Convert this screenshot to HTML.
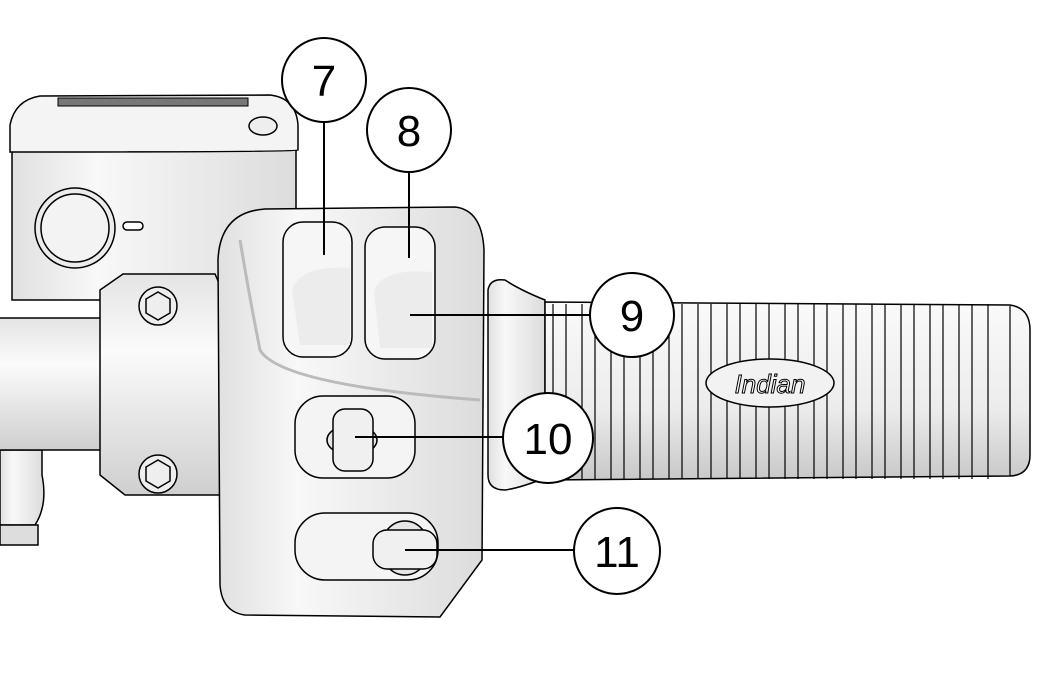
<!DOCTYPE html>
<html><head><meta charset="utf-8"><style>
html,body{margin:0;padding:0;background:#fff;}
svg{display:block}
text{font-family:"Liberation Sans",sans-serif;}
</style></head><body>
<svg width="1050" height="675" viewBox="0 0 1050 675" xmlns="http://www.w3.org/2000/svg">
<defs>
<linearGradient id="gv" x1="0" y1="0" x2="0" y2="1">
<stop offset="0" stop-color="#fafafa"/><stop offset="0.6" stop-color="#ececec"/><stop offset="1" stop-color="#c8c8c8"/></linearGradient>
<linearGradient id="gh" x1="0" y1="0" x2="1" y2="0">
<stop offset="0" stop-color="#e0e0e0"/><stop offset="0.3" stop-color="#f8f8f8"/><stop offset="1" stop-color="#dcdcdc"/></linearGradient>
<linearGradient id="gt" x1="0" y1="0" x2="0" y2="1">
<stop offset="0" stop-color="#e4e4e4"/><stop offset="0.35" stop-color="#fbfbfb"/><stop offset="1" stop-color="#cfcfcf"/></linearGradient>
</defs>
<g stroke="#000" stroke-width="1.5">
<path d="M12 300 L12 150 L296 150 L296 300 Z" fill="url(#gh)"/>
<path d="M10 150 L10 125 Q15 100 40 96 L270 95 Q296 98 298 125 L298 150 Q296 152 10 152 Z" fill="#f4f4f4"/>
<rect x="58" y="98" width="190" height="8" fill="#777" stroke-width="1"/>
<ellipse cx="263" cy="126" rx="14" ry="9" fill="#eee"/>
<circle cx="75" cy="228" r="40" fill="#ececec"/>
<circle cx="75" cy="228" r="34" fill="#f3f3f3"/>
<rect x="123" y="222" width="20" height="8" rx="4" fill="#fff"/>
<path d="M0 450 L42 450 L42 475 Q48 505 35 525 L0 525 Z" fill="url(#gh)"/>
<path d="M0 525 L38 525 L38 545 L0 545 Z" fill="#ddd"/>
<rect x="-2" y="318" width="110" height="132" fill="url(#gt)"/>
<path d="M100 290 L123 274 L215 274 L222 290 L222 495 L125 495 L100 475 Z" fill="url(#gt)"/>
<g fill="#eee"><circle cx="158" cy="306" r="19"/><polygon points="158,292 170,299 170,313 158,320 146,313 146,299"/>
<circle cx="158" cy="474" r="19"/><polygon points="158,460 170,467 170,481 158,488 146,481 146,467"/></g>
<path d="M488 290 Q490 278 505 280 Q520 290 545 300 L545 478 Q520 488 505 490 Q488 490 488 475 Z" fill="url(#gh)"/>
<path d="M545 302 L1010 305 Q1030 308 1030 330 L1030 455 Q1030 475 1010 476 L545 480 Z" fill="url(#gv)"/>
</g>
<g stroke="#000" stroke-width="1.2">
<line x1="553" y1="304" x2="553" y2="479"/><line x1="566" y1="304" x2="566" y2="479"/>
<line x1="582" y1="304" x2="582" y2="479"/><line x1="595" y1="304" x2="595" y2="479"/>
<line x1="611" y1="304" x2="611" y2="479"/><line x1="624" y1="304" x2="624" y2="479"/>
<line x1="640" y1="304" x2="640" y2="479"/><line x1="653" y1="304" x2="653" y2="479"/>
<line x1="669" y1="304" x2="669" y2="479"/><line x1="682" y1="304" x2="682" y2="479"/>
<line x1="698" y1="304" x2="698" y2="479"/><line x1="711" y1="304" x2="711" y2="479"/>
<line x1="727" y1="304" x2="727" y2="479"/><line x1="740" y1="304" x2="740" y2="479"/>
<line x1="756" y1="304" x2="756" y2="479"/><line x1="769" y1="304" x2="769" y2="479"/>
<line x1="785" y1="304" x2="785" y2="479"/><line x1="798" y1="304" x2="798" y2="479"/>
<line x1="814" y1="304" x2="814" y2="479"/><line x1="827" y1="304" x2="827" y2="479"/>
<line x1="843" y1="304" x2="843" y2="479"/><line x1="856" y1="304" x2="856" y2="479"/>
<line x1="872" y1="304" x2="872" y2="479"/><line x1="885" y1="304" x2="885" y2="479"/>
<line x1="901" y1="304" x2="901" y2="479"/><line x1="914" y1="304" x2="914" y2="479"/>
<line x1="930" y1="304" x2="930" y2="479"/><line x1="943" y1="304" x2="943" y2="479"/>
<line x1="959" y1="304" x2="959" y2="479"/><line x1="972" y1="304" x2="972" y2="479"/>
<line x1="988" y1="304" x2="988" y2="479"/><line x1="1010" y1="306" x2="1010" y2="476"/>
</g>
<ellipse cx="770" cy="383" rx="64" ry="24" fill="#f2f2f2" stroke="#000" stroke-width="1.5"/>
<text x="770" y="393" font-size="26" font-style="italic" font-family="Liberation Serif" text-anchor="middle" fill="#fff" stroke="#000" stroke-width="1">Indian</text>
<g stroke="#000" stroke-width="1.5">
<path d="M218 260 Q220 212 265 209 L455 207 Q482 210 484 250 L482 560 L440 617 L245 615 Q222 612 220 585 Z" fill="url(#gh)"/>
<path d="M240 240 Q250 300 260 350 Q280 385 480 400" fill="none" stroke="#bbb" stroke-width="3"/>
<rect x="283" y="222" width="69" height="135" rx="20" fill="#f6f6f6"/>
<rect x="365" y="227" width="70" height="132" rx="20" fill="#f6f6f6"/>
<path d="M292 290 Q300 265 350 268 L350 345 L300 345 Z" fill="#ececec" stroke="none"/>
<path d="M374 292 Q380 268 432 272 L432 348 L380 348 Z" fill="#ececec" stroke="none"/>
<rect x="295" y="396" width="120" height="82" rx="28" fill="#f4f4f4"/>
<ellipse cx="352" cy="440" rx="25" ry="15" fill="#e6e6e6"/>
<rect x="333" y="409" width="40" height="62" rx="12" fill="#f0f0f0"/>
<rect x="295" y="513" width="143" height="67" rx="30" fill="#f4f4f4"/>
<ellipse cx="405" cy="548" rx="24" ry="27" fill="#e6e6e6"/>
<rect x="373" y="530" width="64" height="39" rx="14" fill="#f0f0f0"/>
</g>
<g stroke="#000" stroke-width="2" fill="#fff">
<line x1="324" y1="122" x2="324" y2="255"/>
<line x1="409" y1="172" x2="409" y2="258"/>
<line x1="410" y1="315" x2="590" y2="315"/>
<line x1="355" y1="437" x2="503" y2="437"/>
<line x1="405" y1="550" x2="574" y2="550"/>
<circle cx="324" cy="80" r="42"/>
<circle cx="409" cy="130" r="42"/>
<circle cx="632" cy="315" r="42"/>
<circle cx="548" cy="438" r="45"/>
<circle cx="617" cy="551" r="43"/>
</g>
<g font-size="44" text-anchor="middle" fill="#000">
<text x="324" y="96">7</text>
<text x="409" y="146">8</text>
<text x="632" y="331">9</text>
<text x="548" y="454">10</text>
<text x="617" y="567">11</text>
</g>
</svg>
</body></html>
